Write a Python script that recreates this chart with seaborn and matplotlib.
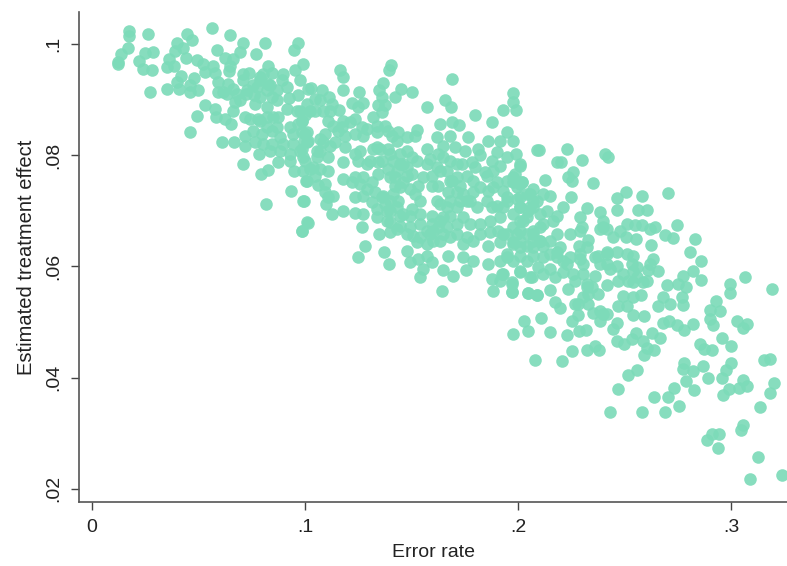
import matplotlib
matplotlib.use("Agg")
import matplotlib.pyplot as plt
import pandas as pd
import seaborn as sns

# (error rate, estimated treatment effect)
low_error = [(.0175,.1022),(.0175,.1014),(.0264,.1017),(.0167,.0993),(.0135,.0981),(.0122,.0963),(.0122,.0968),(.0222,.0969),(.0249,.0984),(.0285,.0986),(.0241,.0954),(.0280,.0953),(.0274,.0913),(.0352,.0919),(.0448,.1017),(.0468,.1007),(.0397,.1001),(.0390,.0987),(.0429,.0993),(.0363,.0972),(.0354,.0959),(.0385,.0960),(.0440,.0974),(.0563,.1028),(.0648,.1016),(.0585,.0989),(.0707,.1002),(.0695,.0986),(.0812,.1001),(.0768,.0981),(.0624,.0975),(.0664,.0972),(.0495,.0971),(.0523,.0963),(.0570,.0960),(.0530,.0950),(.0577,.0948),(.0645,.0951),(.0648,.0960),(.0710,.0945),(.0739,.0947),(.0707,.0935),(.0828,.0960),(.0804,.0945),(.0789,.0934),(.0844,.0948),(.0895,.0945),(.0890,.0934),(.0969,.1001),(.0948,.0989),(.0992,.0963),(.0953,.0953),(.0977,.0935),(.0416,.0942),(.0401,.0931),(.0410,.0919),(.0479,.0938),(.0460,.0913),(.0496,.0916),(.0460,.0925),(.0593,.0932),(.0593,.0913),(.0632,.0910),(.0664,.0919),(.0723,.0910),(.0761,.0907),(.0820,.0916),(.0867,.0916),(.0914,.0922),(.0925,.0902),(.0969,.0908),(.1016,.0919),(.0531,.0890),(.0577,.0883),(.0582,.0868),(.0491,.0871),(.0460,.0841),(.0624,.0865),(.0653,.0856),(.0664,.0880),(.0671,.0895),(.0718,.0868),(.0765,.0892),(.0781,.0865),(.0820,.0886),(.0844,.0904),(.0851,.0868),(.0914,.0883),(.0977,.0880),(.0969,.0856),(.1000,.0872),(.0757,.0844),(.0718,.0835),(.0796,.0838),(.0610,.0823),(.0668,.0823),(.0718,.0817),(.0804,.0820),(.0786,.0801),(.0707,.0783),(.0844,.0844),(.0883,.0832),(.0945,.0838),(.1000,.0838),(.0883,.0808),(.0930,.0802),(.0977,.0808),(.0875,.0787),(.0948,.0771),(.0992,.0772),(.1008,.0754),(.0828,.0773),(.0792,.0766),(.0933,.0735),(.0992,.0717),(.0815,.0712),(.0986,.0664),(.1008,.0679)]
low_error_dense = [(.0726,.0916),(.0773,.0922),(.0695,.0898),(.0789,.0904),(.0867,.0898),(.0820,.0868),(.0875,.0868),(.0930,.0850),(.0984,.0862),(.0820,.0850),(.0867,.0850),(.0898,.0820),(.0844,.0820),(.0945,.0820),(.1008,.0823),(.0992,.0796),(.0930,.0790),(.0836,.0808),(.0789,.0940),(.0836,.0925),(.0679,.0910),(.0617,.0913),(.0640,.0928),(.0757,.0925),(.0828,.0928),(.0789,.0862),(.0741,.0865),(.0765,.0823),(.0961,.0880)]
middle_error = [(.1164,.0953),(.1180,.0940),(.1402,.0962),(.1396,.0952),(.1689,.0937),(.1030,.0920),(.1078,.0916),(.1180,.0916),(.1255,.0913),(.1114,.0904),(.1047,.0901),(.1219,.0894),(.1274,.0893),(.1250,.0886),(.1365,.0929),(.1347,.0917),(.1360,.0904),(.1376,.0889),(.1344,.0889),(.1360,.0877),(.1451,.0919),(.1501,.0913),(.1423,.0904),(.1571,.0887),(.1657,.0898),(.1684,.0887),(.1798,.0872),(.1978,.0911),(.1978,.0895),(.1991,.0881),(.1931,.0881),(.1876,.0860),(.1634,.0856),(.1689,.0860),(.1723,.0854),(.1524,.0845),(.1517,.0835),(.1477,.0832),(.1438,.0841),(.1376,.0853),(.1321,.0868),(.1337,.0853),(.1289,.0847),(.1235,.0865),(.1161,.0881),(.1070,.0898),(.1086,.0880),(.1024,.0880),(.1109,.0862),(.1180,.0862),(.0985,.0862),(.1008,.0841),(.0985,.0841),(.1094,.0838),(.1157,.0844),(.1235,.0838),(.1086,.0823),(.1141,.0823),(.1188,.0814),(.1258,.0808),(.1336,.0814),(.1399,.0802),(.1477,.0808),(.1571,.0811),(.1618,.0832),(.1681,.0835),(.1767,.0832),(.1649,.0817),(.1704,.0815),(.1751,.0808),(.1814,.0811),(.1822,.0800),(.1861,.0826),(.1915,.0826),(.1947,.0841),(.1978,.0826),(.1991,.0802),(.1900,.0805),(.1877,.0790),(.1915,.0781),(.1947,.0796),(.2091,.0809),(.2009,.0781),(.1978,.0760),(.2017,.0751),(.2072,.0739),(.1736,.0784),(.1782,.0787),(.1845,.0769),(.1759,.0763),(.1689,.0754),(.1634,.0772),(.1650,.0796),(.1571,.0784),(.1524,.0790),(.1462,.0784),(.1415,.0790),(.1360,.0790),(.1321,.0811),(.1290,.0784),(.1235,.0802),(.1180,.0787),(.1110,.0796),(.1055,.0796),(.1070,.0775),(.1001,.0790),(.0985,.0811),(.1005,.0754),(.1062,.0747),(.1094,.0748),(.1133,.0727),(.1180,.0757),(.0995,.0717),(.1099,.0712),(.1177,.0700),(.1128,.0694),(.1016,.0677),(.0985,.0664),(.1235,.0760),(.1274,.0760),(.1344,.0766),(.1313,.0751),(.1290,.0739),(.1235,.0724),(.1274,.0727),(.1235,.0695),(.1274,.0694),(.1360,.0724),(.1313,.0715),(.1337,.0689),(.1266,.0670),(.1349,.0658),(.1430,.0667),(.1399,.0661),(.1423,.0760),(.1477,.0763),(.1446,.0742),(.1517,.0730),(.1540,.0718),(.1399,.0718),(.1430,.0706),(.1383,.0700),(.1399,.0679),(.1493,.0691),(.1540,.0676),(.1509,.0655),(.1571,.0664),(.1595,.0691),(.1634,.0682),(.1618,.0718),(.1665,.0706),(.1673,.0733),(.1712,.0706),(.1743,.0688),(.1665,.0670),(.1634,.0646),(.1571,.0640),(.1712,.0658),(.1759,.0652),(.1822,.0676),(.1868,.0661),(.1931,.0658),(.1994,.0658),(.1900,.0709),(.1884,.0742),(.1947,.0724),(.1822,.0742),(.1806,.0706),(.1775,.0718),(.2009,.0706),(.2072,.0706),(.2025,.0682),(.2072,.0658),(.2072,.0634),(.2009,.0634),(.1947,.0616),(.1915,.0610),(.1861,.0604),(.1978,.0610),(.2041,.0610),(.2009,.0592),(.2056,.0580),(.1931,.0586),(.1877,.0577),(.1915,.0574),(.1971,.0571),(.1884,.0556),(.1971,.0553),(.2049,.0552),(.2091,.0549),(.1645,.0555),(.1540,.0581),(.1556,.0595),(.1598,.0607),(.1571,.0619),(.1532,.0613),(.1493,.0608),(.1477,.0628),(.1394,.0604),(.1371,.0625),(.1282,.0637),(.1250,.0616),(.1650,.0593),(.1693,.0583),(.1673,.0619),(.1743,.0616),(.1787,.0609),(.1755,.0593),(.1861,.0637),(.1524,.0643),(.1462,.0694),(.1595,.0745),(.1712,.0760),(.1681,.0691),(.1478,.0658),(.1603,.0664)]
middle_error_dense = [(.1133,.0853),(.1172,.0850),(.1211,.0859),(.1266,.0850),(.1188,.0835),(.1274,.0835),(.1070,.0829),(.1117,.0817),(.1055,.0808),(.1016,.0826),(.1337,.0841),(.1391,.0844),(.1407,.0835),(.1430,.0826),(.1352,.0811),(.1391,.0811),(.1446,.0802),(.1501,.0796),(.1446,.0784),(.1430,.0772),(.1477,.0778),(.1501,.0766),(.1462,.0751),(.1423,.0745),(.1493,.0739),(.1532,.0745),(.1556,.0760),(.1595,.0763),(.1618,.0778),(.1587,.0793),(.1626,.0802),(.1681,.0790),(.1665,.0772),(.1712,.0784),(.1728,.0745),(.1790,.0754),(.1853,.0763),(.1900,.0751),(.1931,.0736),(.1861,.0736),(.1790,.0733),(.1759,.0718),(.1728,.0718),(.1853,.0718),(.1877,.0706),(.1931,.0706),(.1915,.0688),(.1868,.0682),(.1978,.0694),(.2041,.0688),(.1978,.0670),(.1908,.0664),(.2041,.0658),(.2103,.0670),(.2103,.0646),(.2041,.0637),(.1978,.0643),(.1915,.0643),(.1822,.0658),(.1775,.0676),(.1790,.0646),(.1743,.0640),(.1681,.0652),(.1712,.0676),(.1650,.0658),(.1603,.0646),(.1540,.0652),(.1493,.0670),(.1540,.0694),(.1501,.0703),(.1446,.0691),(.1446,.0673),(.1383,.0682),(.1337,.0703),(.1399,.0700),(.1438,.0718),(.1368,.0727),(.1415,.0730),(.1634,.0712),(.1681,.0718),(.1626,.0745),(.1681,.0754),(.1712,.0733),(.1743,.0730),(.1798,.0778),(.1884,.0772),(.1947,.0754),(.1994,.0742),(.2041,.0730),(.2072,.0718),(.2009,.0724),(.1626,.0670),(.1595,.0676),(.1587,.0658),(.1650,.0688),(.1008,.0892),(.1047,.0880),(.1117,.0880),(.1125,.0892),(.0995,.0826),(.1039,.0778),(.1109,.0772),(.1047,.0763),(.1094,.0733),(.1110,.0724),(.1070,.0808),(.1024,.0775),(.1305,.0790),(.1250,.0790),(.1344,.0787),(.1258,.0748),(.1219,.0751),(.1329,.0733),(.1376,.0712),(.1399,.0760),(.1391,.0775)]
high_error = [(.2100,.0809),(.2232,.0811),(.2408,.0802),(.2424,.0796),(.2182,.0787),(.2202,.0787),(.2302,.0791),(.2260,.0769),(.2236,.0760),(.2252,.0753),(.2127,.0755),(.2351,.0749),(.2010,.0783),(.1986,.0766),(.1978,.0751),(.2017,.0751),(.2507,.0734),(.2463,.0722),(.2584,.0726),(.2706,.0732),(.2466,.0701),(.2562,.0701),(.2604,.0701),(.2247,.0724),(.2213,.0706),(.2150,.0727),(.2119,.0730),(.2326,.0705),(.2385,.0698),(.2291,.0688),(.2401,.0682),(.2510,.0676),(.2549,.0675),(.2581,.0675),(.2643,.0671),(.2620,.0667),(.2748,.0675),(.2690,.0656),(.2726,.0650),(.2831,.0649),(.2623,.0639),(.2807,.0626),(.2858,.0610),(.2553,.0649),(.2507,.0652),(.2448,.0652),(.2417,.0667),(.2479,.0664),(.2385,.0667),(.2244,.0658),(.2291,.0664),(.2330,.0647),(.2288,.0637),(.2417,.0625),(.2463,.0625),(.2510,.0622),(.2362,.0616),(.2534,.0604),(.2636,.0613),(.2620,.0604),(.2659,.0591),(.2612,.0593),(.2557,.0598),(.2588,.0571),(.2541,.0571),(.2518,.0574),(.2471,.0574),(.2432,.0595),(.2385,.0604),(.2307,.0604),(.2244,.0616),(.2291,.0622),(.2182,.0616),(.2119,.0637),(.2197,.0634),(.2150,.0646),(.2362,.0582),(.2417,.0567),(.2322,.0568),(.2346,.0562),(.2377,.0550),(.2307,.0544),(.2236,.0559),(.2150,.0557),(.2088,.0549),(.2049,.0552),(.1970,.0553),(.2174,.0535),(.2197,.0526),(.2268,.0532),(.2330,.0532),(.2491,.0547),(.2541,.0544),(.2578,.0548),(.2510,.0529),(.2471,.0529),(.2541,.0513),(.2593,.0510),(.2354,.0517),(.2417,.0514),(.2385,.0502),(.2466,.0499),(.2448,.0487),(.2283,.0513),(.2252,.0502),(.2028,.0502),(.2106,.0507),(.2045,.0484),(.1975,.0478),(.2150,.0482),(.2232,.0477),(.2286,.0483),(.2319,.0486),(.2465,.0466),(.2498,.0460),(.2534,.0469),(.2554,.0481),(.2588,.0466),(.2628,.0480),(.2667,.0471),(.2639,.0450),(.2593,.0441),(.2604,.0454),(.2254,.0448),(.2323,.0450),(.2362,.0457),(.2380,.0450),(.2080,.0432),(.2207,.0430),(.2557,.0414),(.2518,.0405),(.2469,.0380),(.2432,.0338),(.2582,.0339),(.2692,.0339),(.2758,.0349),(.2703,.0365),(.2639,.0366),(.2733,.0382),(.2826,.0378),(.2787,.0394),(.2891,.0399),(.2956,.0400),(.2820,.0412),(.2773,.0415),(.2780,.0427),(.2870,.0420),(.2977,.0414),(.2999,.0427),(.2964,.0369),(.2992,.0379),(.3039,.0382),(.3074,.0385),(.3058,.0396),(.3157,.0432),(.3183,.0434),(.3204,.0391),(.3183,.0373),(.3136,.0347),(.3058,.0314),(.3045,.0306),(.2886,.0288),(.2909,.0298),(.2945,.0298),(.2939,.0274),(.3128,.0258),(.3088,.0217),(.3241,.0225),(.2854,.0460),(.2873,.0451),(.2909,.0449),(.2956,.0472),(.2998,.0456),(.3027,.0502),(.3073,.0496),(.3058,.0490),(.2917,.0494),(.2901,.0505),(.2901,.0522),(.2948,.0520),(.2928,.0537),(.2995,.0569),(.2995,.0552),(.3066,.0581),(.3194,.0560),(.2859,.0575),(.2820,.0592),(.2773,.0583),(.2753,.0568),(.2698,.0567),(.2789,.0562),(.2768,.0544),(.2776,.0530),(.2682,.0544),(.2714,.0532),(.2659,.0528),(.2682,.0499),(.2709,.0502),(.2745,.0495),(.2780,.0486),(.2823,.0497),(.2009,.0706),(.2056,.0706),(.2103,.0694),(.2166,.0682),(.2009,.0682),(.2072,.0664),(.2009,.0646),(.1947,.0658),(.2103,.0646),(.2150,.0622),(.2072,.0619),(.2009,.0619),(.1947,.0622),(.1923,.0586),(.2009,.0589),(.2064,.0580),(.2119,.0586),(.2174,.0580),(.1970,.0568),(.2229,.0604)]
high_error_dense = [(.2009,.0748),(.2056,.0730),(.2088,.0718),(.2049,.0700),(.2135,.0700),(.2182,.0691),(.1994,.0721),(.1947,.0718),(.2119,.0676),(.2182,.0658),(.2009,.0664),(.2072,.0646),(.1978,.0640),(.2182,.0625),(.2213,.0610),(.2119,.0616),(.2095,.0598),(.2150,.0595),(.2213,.0589),(.2260,.0586),(.2307,.0586),(.2417,.0604),(.2463,.0601),(.2494,.0586),(.2541,.0592),(.2541,.0619),(.2557,.0580),(.2604,.0574),(.2268,.0574),(.2322,.0562),(.2330,.0550),(.2385,.0520),(.2401,.0514),(.2283,.0532),(.2299,.0670),(.2401,.0670),(.2417,.0622),(.2377,.0619),(.2322,.0634),(.2291,.0613)]

x_ticks = [0, .1, .2, .3]
x_tick_labels = ["0", ".1", ".2", ".3"]
y_ticks = [.02, .04, .06, .08, .1]
y_tick_labels = [".02", ".04", ".06", ".08", ".1"]

df = pd.DataFrame(low_error + low_error_dense + middle_error + middle_error_dense + high_error + high_error_dense,
                  columns=["Error rate", "Estimated treatment effect"])

sns.set_theme(style="white")
plt.rcParams["font.family"] = ["Liberation Sans", "DejaVu Sans"]

W, H = 787, 566
fig = plt.figure(figsize=(W / 100, H / 100), dpi=100)
ax = fig.add_axes([79 / W, 1 - 502 / H, (W - 79) / W, (502 - 12) / H])
sns.scatterplot(data=df, x="Error rate", y="Estimated treatment effect", ax=ax,
                color="#7ddbb9", alpha=0.92, s=82, linewidth=0, clip_on=False)

ax.set_xlim(-.0061, .3263)
ax.set_ylim(.01765, .1057)
ax.set_xticks(x_ticks, x_tick_labels)
ax.set_yticks(y_ticks, y_tick_labels)
ax.tick_params(axis="both", direction="out", length=6, width=1, color="#444444",
               labelsize=14, labelcolor="#222222", bottom=True, left=True, pad=6)
for lab in ax.get_yticklabels():
    lab.set_rotation(90)
    lab.set_va("center")
ax.set_xlabel("Error rate", fontsize=14, color="#222222", labelpad=6)
ax.set_ylabel("Estimated treatment effect", fontsize=14.5, color="#222222", labelpad=7)
sns.despine(ax=ax)
for s in ("left", "bottom"):
    ax.spines[s].set_color("#555555")
    ax.spines[s].set_linewidth(1.2)

fig.savefig("out.png", dpi=100)
